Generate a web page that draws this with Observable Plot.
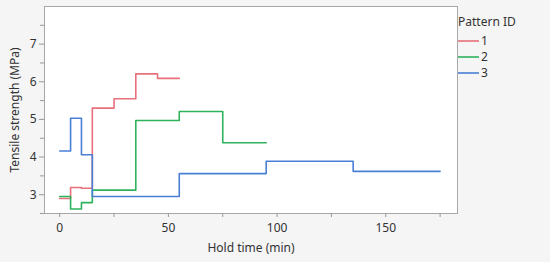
<!DOCTYPE html>
<html>
<head>
<meta charset="utf-8">
<script src="https://cdn.jsdelivr.net/npm/d3@7"></script>
<script src="https://cdn.jsdelivr.net/npm/@observablehq/plot@0.6"></script>
<style>
  html, body { margin: 0; padding: 0; background: #f5f5f5; }
  #wrap { position: relative; width: 550px; height: 262px; font-family: "Noto Sans", sans-serif; }
  #legend { position: absolute; left: 458px; top: 14px; font-size: 12px; line-height: 16px; color: #333; }
  #legend .title { height: 16px; margin-bottom: 3px; }
  #legend .item { display: flex; align-items: center; height: 16px; line-height: 16px; }
  #legend .item svg { margin-right: 2px; display: block; }
</style>
</head>
<body>
<div id="wrap"><div id="legend"></div></div>
<script>
// Data
const patternIds = ["1", "2", "3"];
const colors = ["#e8707a", "#2eb25c", "#4a7fd6"];

const time1 = [0, 5, 10, 15, 25, 35, 45, 55];
const strength1 = [2.90, 3.19, 3.17, 5.30, 5.55, 6.21, 6.09, 6.09];

const time2 = [0, 5, 10, 15, 35, 55, 75, 95];
const strength2 = [2.95, 2.62, 2.79, 3.12, 4.97, 5.21, 4.38, 4.38];

const time3 = [0, 5, 10, 15, 55, 95, 135, 175];
const strength3 = [4.16, 5.03, 4.06, 2.95, 3.56, 3.89, 3.62, 3.62];

const xMajorTicks = [0, 50, 100, 150];
const xMinorTicks = [25, 75, 125, 175];
const yMajorTicks = [3, 4, 5, 6, 7];
const yMinorTicks = [2.5, 3.5, 4.5, 5.5, 6.5, 7.5];

const times = [time1, time2, time3];
const strengths = [strength1, strength2, strength3];
const rows = [];
patternIds.forEach((id, i) => {
  times[i].forEach((t, j) => rows.push({id, time: t, strength: strengths[i][j]}));
});

const chart = Plot.plot({
  width: 550,
  height: 262,
  marginLeft: 44,
  marginTop: 6,
  marginRight: 93,
  marginBottom: 49,
  style: {background: "#f5f5f5", fontFamily: "Noto Sans, sans-serif", fontSize: "12px", color: "#333"},
  x: {domain: [-7, 183]},
  y: {domain: [2.5, 8]},
  color: {domain: patternIds, range: colors},
  marks: [
    Plot.frame({fill: "white", stroke: "#a8a8a8"}),
    Plot.axisX({ticks: xMinorTicks, tickSize: 4, tickFormat: () => "", label: null, stroke: "#999"}),
    Plot.axisX({ticks: xMajorTicks, tickSize: 4, tickPadding: 6, tickFormat: d3.format("d"), stroke: "#999", fill: "#333",
      label: "Hold time (min)", labelAnchor: "center", labelOffset: 38, labelArrow: "none"}),
    Plot.axisY({ticks: yMinorTicks, tickSize: 4, tickFormat: () => "", label: null, stroke: "#999"}),
    Plot.axisY({ticks: yMajorTicks, tickSize: 5, tickPadding: 3, tickFormat: d3.format("d"), stroke: "#999", fill: "#333",
      label: "Tensile strength (MPa)", labelAnchor: "center", labelOffset: 34, labelArrow: "none"}),
    Plot.line(rows, {x: "time", y: "strength", z: "id", stroke: "id", curve: "step-after", strokeWidth: 1.6})
  ]
});
const wrap = document.getElementById("wrap");
wrap.insertBefore(chart, wrap.firstChild);

// Legend
const legend = document.getElementById("legend");
const title = document.createElement("div");
title.className = "title";
title.textContent = "Pattern ID";
legend.appendChild(title);
patternIds.forEach((id, i) => {
  const item = document.createElement("div");
  item.className = "item";
  item.innerHTML = `<svg width="21" height="4"><line x1="0" x2="21" y1="2" y2="2" stroke="${colors[i]}" stroke-width="1.6"/></svg><span>${id}</span>`;
  legend.appendChild(item);
});
</script>
</body>
</html>
